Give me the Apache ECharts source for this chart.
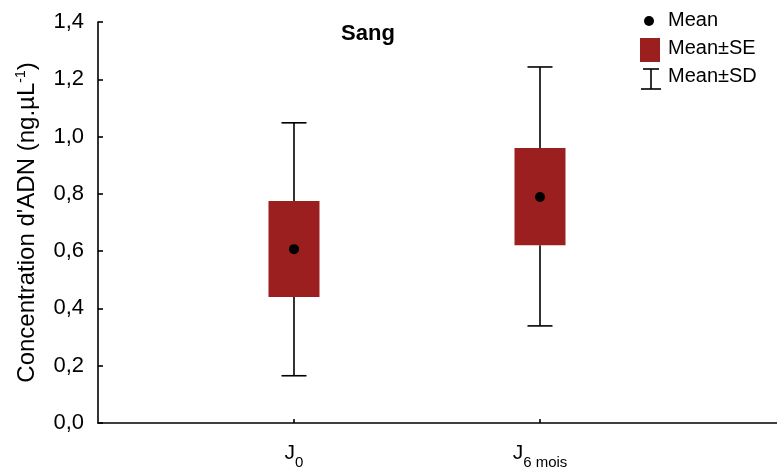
<!DOCTYPE html>
<html>
<head>
<meta charset="utf-8">
<script src="https://cdn.jsdelivr.net/npm/echarts@6/dist/echarts.min.js"></script>
<style>
  html, body { margin: 0; padding: 0; background: #fff; }
  #chart { width: 777px; height: 471px; }
</style>
</head>
<body>
<div id="chart"></div>
<script>
// Groups and their summary statistics (DNA concentration, ng/µL)
const groups = ['0', '6 mois'];
const positions = [1, 2];
const means = [0.607, 0.789];
const seLow = [0.44, 0.621];
const seHigh = [0.775, 0.96];
const sdLow = [0.165, 0.339];
const sdHigh = [1.048, 1.243];
const yTicks = [0, 0.2, 0.4, 0.6, 0.8, 1.0, 1.2, 1.4];

const boxColor = '#9c1f1f';
const font = 'Liberation Sans, Arial, sans-serif';

const rows = positions.map((p, i) => [p, means[i], seLow[i], seHigh[i], sdLow[i], sdHigh[i]]);

const chart = echarts.init(document.getElementById('chart'), null, { renderer: 'canvas' });

function renderBox(params, api) {
  const x = api.value(0);
  const pMean = api.coord([x, api.value(1)]);
  const pSeLo = api.coord([x, api.value(2)]);
  const pSeHi = api.coord([x, api.value(3)]);
  const pSdLo = api.coord([x, api.value(4)]);
  const pSdHi = api.coord([x, api.value(5)]);
  const cx = pMean[0];
  const halfBox = 25.5;
  const halfCap = 12.5;
  const line = { stroke: '#000', lineWidth: 1.6 };
  return {
    type: 'group',
    children: [
      { type: 'line', shape: { x1: cx, y1: pSdHi[1], x2: cx, y2: pSeHi[1] }, style: line },
      { type: 'line', shape: { x1: cx, y1: pSeLo[1], x2: cx, y2: pSdLo[1] }, style: line },
      { type: 'line', shape: { x1: cx - halfCap, y1: pSdHi[1], x2: cx + halfCap, y2: pSdHi[1] }, style: line },
      { type: 'line', shape: { x1: cx - halfCap, y1: pSdLo[1], x2: cx + halfCap, y2: pSdLo[1] }, style: line },
      { type: 'rect', shape: { x: cx - halfBox, y: pSeHi[1], width: halfBox * 2, height: pSeLo[1] - pSeHi[1] }, style: { fill: boxColor } },
      { type: 'circle', shape: { cx: cx, cy: pMean[1], r: 5 }, style: { fill: '#000' } }
    ]
  };
}

const option = {
  animation: false,
  backgroundColor: '#fff',
  title: {
    text: 'Sang',
    left: 363, top: 18, textAlign: 'center',
    textStyle: { fontFamily: font, fontSize: 22, fontWeight: 'bold', color: '#000' }
  },
  grid: { left: 98, right: 0, top: 22, bottom: 48, containLabel: false },
  xAxis: {
    type: 'value',
    min: 0.2033,
    max: 2.9634,
    splitLine: { show: false },
    axisLine: { show: true, lineStyle: { color: '#000', width: 1.6 } },
    axisTick: { show: true, inside: true, length: 4, customValues: positions, lineStyle: { color: '#000', width: 1.6 } },
    axisLabel: {
      show: true,
      customValues: positions,
      margin: 17,
      formatter: function (v) {
        const i = positions.indexOf(v);
        return i < 0 ? '' : '{j|J}{s|' + groups[i] + '}';
      },
      rich: {
        j: { fontFamily: font, fontSize: 21, color: '#000', verticalAlign: 'bottom', lineHeight: 24 },
        s: { fontFamily: font, fontSize: 15, color: '#000', verticalAlign: 'bottom', padding: [0, 0, -6, 0], lineHeight: 24 }
      }
    }
  },
  yAxis: {
    type: 'value',
    min: 0,
    max: 1.4,
    interval: 0.2,
    name: '{t|Concentration d\'ADN (ng.µL}{sup|-1}{t|)}',
    nameLocation: 'middle',
    nameGap: 58,
    nameRotate: 90,
    nameTextStyle: {
      rich: {
        t: { fontFamily: font, fontSize: 24, color: '#000' },
        sup: { fontFamily: font, fontSize: 14, color: '#000', padding: [0, 0, 12, 0] }
      }
    },
    splitLine: { show: false },
    axisLine: { show: true, lineStyle: { color: '#000', width: 1.6 } },
    axisTick: { show: true, inside: true, length: 5, lineStyle: { color: '#000', width: 1.6 } },
    axisLabel: {
      margin: 14,
      fontFamily: font, fontSize: 22, color: '#000',
      formatter: function (v) { return v.toFixed(1).replace('.', ','); }
    }
  },
  series: [{
    type: 'custom',
    renderItem: renderBox,
    data: rows,
    encode: { x: 0, y: [2, 3, 4, 5] },
    clip: false
  }],
  graphic: [
    // legend
    { type: 'circle', shape: { cx: 649, cy: 21, r: 5 }, style: { fill: '#000' } },
    { type: 'text', left: 668, top: 10, style: { text: 'Mean', font: '20px ' + font, fill: '#000' } },
    { type: 'rect', shape: { x: 640, y: 38, width: 20, height: 24 }, style: { fill: boxColor } },
    { type: 'text', left: 668, top: 38, style: { text: 'Mean±SE', font: '20px ' + font, fill: '#000' } },
    { type: 'line', shape: { x1: 651, y1: 69, x2: 651, y2: 89 }, style: { stroke: '#000', lineWidth: 1.6 } },
    { type: 'line', shape: { x1: 643, y1: 69, x2: 659, y2: 69 }, style: { stroke: '#000', lineWidth: 1.6 } },
    { type: 'line', shape: { x1: 641, y1: 89, x2: 661, y2: 89 }, style: { stroke: '#000', lineWidth: 1.6 } },
    { type: 'text', left: 668, top: 66, style: { text: 'Mean±SD', font: '20px ' + font, fill: '#000' } }
  ]
};

chart.setOption(option);
</script>
</body>
</html>
